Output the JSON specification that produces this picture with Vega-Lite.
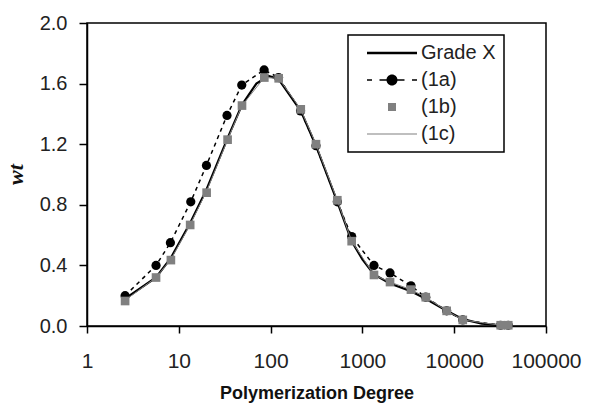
{
  "$schema": "https://vega.github.io/schema/vega-lite/v6.json",
  "width": 459,
  "height": 303,
  "autosize": "none",
  "padding": {"left": 87, "top": 23, "right": 43, "bottom": 79},
  "background": "white",
  "config": {"view": {"stroke": "#000", "strokeWidth": 1.5}, "font": "Liberation Sans"},
  "datasets": {
    "gradeX": [
      {"series": "Grade X", "x": 2.6, "y": 0.18},
      {"series": "Grade X", "x": 5.65, "y": 0.32},
      {"series": "Grade X", "x": 8.2, "y": 0.45},
      {"series": "Grade X", "x": 13.3, "y": 0.68},
      {"series": "Grade X", "x": 20, "y": 0.9},
      {"series": "Grade X", "x": 34, "y": 1.24},
      {"series": "Grade X", "x": 48.8, "y": 1.46},
      {"series": "Grade X", "x": 70, "y": 1.6},
      {"series": "Grade X", "x": 95, "y": 1.65},
      {"series": "Grade X", "x": 122, "y": 1.63},
      {"series": "Grade X", "x": 213, "y": 1.42},
      {"series": "Grade X", "x": 312, "y": 1.19},
      {"series": "Grade X", "x": 533, "y": 0.82},
      {"series": "Grade X", "x": 764, "y": 0.56},
      {"series": "Grade X", "x": 1000, "y": 0.44},
      {"series": "Grade X", "x": 1337, "y": 0.34},
      {"series": "Grade X", "x": 2000, "y": 0.28},
      {"series": "Grade X", "x": 3380, "y": 0.23},
      {"series": "Grade X", "x": 4900, "y": 0.18},
      {"series": "Grade X", "x": 8280, "y": 0.1},
      {"series": "Grade X", "x": 12400, "y": 0.045},
      {"series": "Grade X", "x": 20000, "y": 0.015},
      {"series": "Grade X", "x": 32000, "y": 0.005},
      {"series": "Grade X", "x": 38800, "y": 0.005}
    ],
    "s1a": [
      {"series": "(1a)", "x": 2.6, "y": 0.2},
      {"series": "(1a)", "x": 5.65, "y": 0.4},
      {"series": "(1a)", "x": 8.1, "y": 0.55},
      {"series": "(1a)", "x": 13.5, "y": 0.82},
      {"series": "(1a)", "x": 20, "y": 1.06},
      {"series": "(1a)", "x": 33.5, "y": 1.39},
      {"series": "(1a)", "x": 48.5, "y": 1.59},
      {"series": "(1a)", "x": 85, "y": 1.69},
      {"series": "(1a)", "x": 122, "y": 1.64},
      {"series": "(1a)", "x": 212, "y": 1.42},
      {"series": "(1a)", "x": 312, "y": 1.19},
      {"series": "(1a)", "x": 533, "y": 0.82},
      {"series": "(1a)", "x": 764, "y": 0.59},
      {"series": "(1a)", "x": 1337, "y": 0.4},
      {"series": "(1a)", "x": 2000, "y": 0.35},
      {"series": "(1a)", "x": 3380, "y": 0.265},
      {"series": "(1a)", "x": 4900, "y": 0.19},
      {"series": "(1a)", "x": 8280, "y": 0.1},
      {"series": "(1a)", "x": 12400, "y": 0.04},
      {"series": "(1a)", "x": 32000, "y": 0.005},
      {"series": "(1a)", "x": 38800, "y": 0.005}
    ],
    "s1b": [
      {"series": "(1b)", "x": 2.6, "y": 0.165},
      {"series": "(1b)", "x": 5.65, "y": 0.32},
      {"series": "(1b)", "x": 8.2, "y": 0.435},
      {"series": "(1b)", "x": 13.3, "y": 0.667},
      {"series": "(1b)", "x": 20.1, "y": 0.88},
      {"series": "(1b)", "x": 34, "y": 1.23},
      {"series": "(1b)", "x": 48.8, "y": 1.455},
      {"series": "(1b)", "x": 85.4, "y": 1.64},
      {"series": "(1b)", "x": 122.5, "y": 1.635},
      {"series": "(1b)", "x": 213, "y": 1.43},
      {"series": "(1b)", "x": 312, "y": 1.2},
      {"series": "(1b)", "x": 533, "y": 0.83},
      {"series": "(1b)", "x": 764, "y": 0.56},
      {"series": "(1b)", "x": 1337, "y": 0.337},
      {"series": "(1b)", "x": 2000, "y": 0.29},
      {"series": "(1b)", "x": 3380, "y": 0.24},
      {"series": "(1b)", "x": 4900, "y": 0.19},
      {"series": "(1b)", "x": 8280, "y": 0.1},
      {"series": "(1b)", "x": 12400, "y": 0.04},
      {"series": "(1b)", "x": 32100, "y": 0.005},
      {"series": "(1b)", "x": 38800, "y": 0.005}
    ],
    "s1c": [
      {"series": "(1c)", "x": 2.6, "y": 0.17},
      {"series": "(1c)", "x": 5.65, "y": 0.32},
      {"series": "(1c)", "x": 8.2, "y": 0.44},
      {"series": "(1c)", "x": 13.3, "y": 0.67},
      {"series": "(1c)", "x": 20.1, "y": 0.89},
      {"series": "(1c)", "x": 34, "y": 1.23},
      {"series": "(1c)", "x": 48.8, "y": 1.455},
      {"series": "(1c)", "x": 85.4, "y": 1.64},
      {"series": "(1c)", "x": 122.5, "y": 1.635},
      {"series": "(1c)", "x": 213, "y": 1.43},
      {"series": "(1c)", "x": 312, "y": 1.2},
      {"series": "(1c)", "x": 533, "y": 0.83},
      {"series": "(1c)", "x": 764, "y": 0.56},
      {"series": "(1c)", "x": 1337, "y": 0.337},
      {"series": "(1c)", "x": 2000, "y": 0.29},
      {"series": "(1c)", "x": 3380, "y": 0.24},
      {"series": "(1c)", "x": 4900, "y": 0.19},
      {"series": "(1c)", "x": 8280, "y": 0.1},
      {"series": "(1c)", "x": 12400, "y": 0.04},
      {"series": "(1c)", "x": 32100, "y": 0.005},
      {"series": "(1c)", "x": 38800, "y": 0.005}
    ]
  },
  "encoding": {
    "x": {
      "field": "x", "type": "quantitative",
      "scale": {"type": "log", "domain": [1, 100000], "nice": false},
      "axis": {
        "title": "Polymerization Degree",
        "values": [1, 10, 100, 1000, 10000, 100000],
        "format": "d", "grid": false, "labelFlush": false, "labelOverlap": false,
        "domainColor": "#000", "domainWidth": 1.5,
        "tickColor": "#000", "tickWidth": 1.5, "tickSize": 7,
        "labelFont": "Liberation Sans", "labelFontSize": 21, "labelColor": "#222", "labelPadding": 17,
        "titleFont": "Liberation Sans", "titleFontSize": 18, "titleFontWeight": "bold", "titleColor": "#111",
        "titleBaseline": "alphabetic", "titleY": 72
      }
    },
    "y": {
      "field": "y", "type": "quantitative",
      "scale": {"domain": [0, 2], "nice": false},
      "axis": {
        "title": "wt",
        "values": [0, 0.4, 0.8, 1.2, 1.6, 2.0],
        "format": ".1f", "grid": false, "labelFlush": false, "labelOverlap": false,
        "domainColor": "#000", "domainWidth": 1.5,
        "tickColor": "#000", "tickWidth": 1.5, "tickSize": 8,
        "labelFont": "Liberation Sans", "labelFontSize": 20, "labelColor": "#222", "labelPadding": 12,
        "titleFont": "Liberation Serif", "titleFontSize": 22, "titleFontWeight": "bold", "titleFontStyle": "italic",
        "titleColor": "#111", "titleAngle": -90, "titleX": -72, "titleY": 151, "titleBaseline": "middle", "titleAlign": "center"
      }
    }
  },
  "layer": [
    {
      "data": {"name": "gradeX"},
      "mark": {"type": "line", "strokeWidth": 2.2},
      "encoding": {
        "color": {
          "field": "series", "type": "nominal",
          "scale": {"domain": ["Grade X", "(1a)", "(1b)", "(1c)"], "range": ["#000000", "#000000", "#808080", "#808080"]},
          "legend": {
            "orient": "none", "legendX": 261, "legendY": 12, "title": null,
            "strokeColor": "#000", "fillColor": "white", "padding": 8,
            "symbolOffset": 11, "symbolSize": 2500, "symbolStrokeWidth": 0, "labelOffset": 4, "rowPadding": 7,
            "clipHeight": 20,
            "labelFont": "Liberation Sans", "labelFontSize": 20, "labelColor": "#222",
            "labelExpr": "datum.label + '   '",
            "encode": {
              "legend": {"update": {"strokeWidth": {"value": 1.5}}},
              "symbols": {
                "update": {
                  "shape": {"signal": "datum.value === '(1a)' ? 'M-1,-0.03H-0.8V0.03H-1ZM-0.5,-0.03H-0.2V0.03H-0.5ZM0.2,-0.03H0.5V0.03H0.2ZM0.8,-0.03H1V0.03H0.8ZM-0.22,0A0.22,0.22 0 1,1 0.22,0A0.22,0.22 0 1,1 -0.22,0Z' : datum.value === '(1b)' ? 'M-0.16,-0.16H0.16V0.16H-0.16Z' : datum.value === '(1c)' ? 'M-1,-0.022H1V0.022H-1Z' : 'M-1,-0.05H1V0.05H-1Z'"},
                  "fill": {"signal": "datum.value === '(1b)' || datum.value === '(1c)' ? '#808080' : '#000000'"},
                  "stroke": {"value": "transparent"},
                  "strokeWidth": {"value": 0},
                  "size": {"value": 2500},
                  "opacity": {"value": 1}
                }
              }
            }
          }
        }
      }
    },
    {
      "data": {"name": "s1a"},
      "mark": {"type": "line", "color": "#000", "strokeWidth": 1.5, "strokeDash": [4, 4]},
      "encoding": {}
    },
    {
      "data": {"name": "s1a"},
      "mark": {"type": "point", "shape": "circle", "filled": true, "color": "#000", "size": 85, "opacity": 1},
      "encoding": {}
    },
    {
      "data": {"name": "s1b"},
      "mark": {"type": "point", "shape": "square", "filled": true, "color": "#808080", "size": 75, "opacity": 1},
      "encoding": {}
    },
    {
      "data": {"name": "s1c"},
      "mark": {"type": "line", "color": "#808080", "strokeWidth": 1},
      "encoding": {}
    }
  ]
}
